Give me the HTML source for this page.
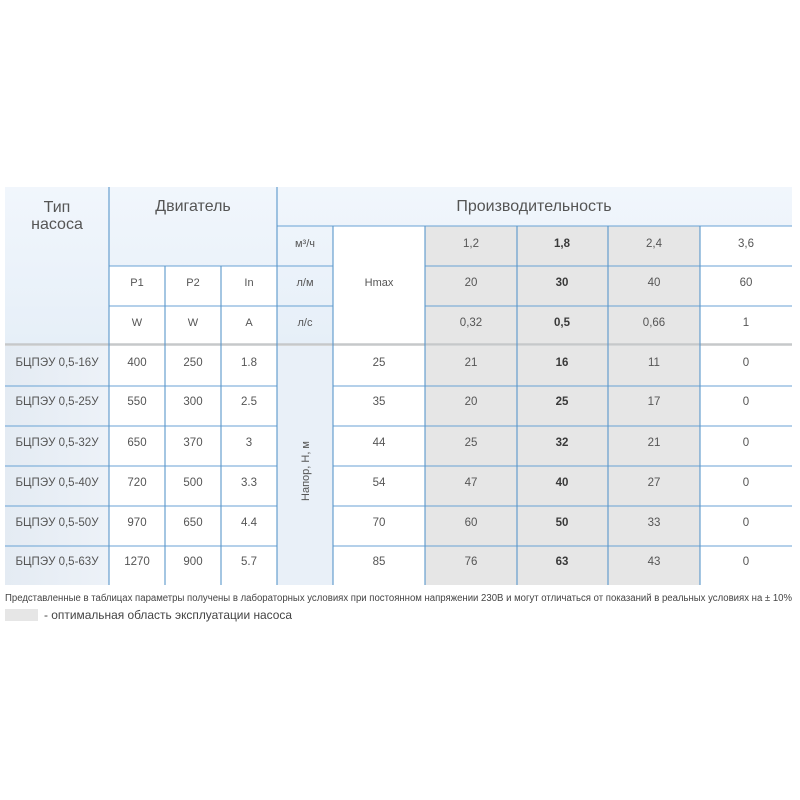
<!DOCTYPE html>
<html><head><meta charset="utf-8"><style>
html,body{margin:0;padding:0;background:#fff;}
svg{display:block;}
text{font-family:"Liberation Sans","DejaVu Sans",sans-serif;fill:#555;}
</style></head><body>
<svg width="800" height="800" viewBox="0 0 800 800" xmlns="http://www.w3.org/2000/svg">
<defs>
<linearGradient id="hb" x1="0" y1="0" x2="0" y2="1">
<stop offset="0" stop-color="#f1f6fc"/><stop offset="1" stop-color="#e6eff8"/>
</linearGradient>
<linearGradient id="lc" x1="0" y1="0" x2="1" y2="0">
<stop offset="0" stop-color="#e4ebf3"/><stop offset="1" stop-color="#edf2f8"/>
</linearGradient>
</defs>
<rect x="5" y="187" width="787" height="157" fill="url(#hb)"/>
<rect x="109" y="266" width="168" height="78" fill="#fff"/>
<rect x="333" y="226" width="92" height="118" fill="#fff"/>
<rect x="425" y="226" width="275" height="118" fill="#e6e6e6"/>
<rect x="700" y="226" width="92" height="118" fill="#fff"/>
<rect x="5" y="346" width="104" height="239" fill="url(#lc)"/>
<rect x="277" y="346" width="56" height="239" fill="#e9f0f8"/>
<rect x="425" y="346" width="275" height="239" fill="#e6e6e6"/>
<g stroke="#68a2d4" stroke-width="1">
<line x1="277" y1="226" x2="792" y2="226"/>
<line x1="109" y1="266" x2="333" y2="266"/>
<line x1="425" y1="266" x2="792" y2="266"/>
<line x1="109" y1="306" x2="333" y2="306"/>
<line x1="425" y1="306" x2="792" y2="306"/>
<line x1="5" y1="386" x2="277" y2="386"/><line x1="333" y1="386" x2="792" y2="386"/>
<line x1="5" y1="426" x2="277" y2="426"/><line x1="333" y1="426" x2="792" y2="426"/>
<line x1="5" y1="466" x2="277" y2="466"/><line x1="333" y1="466" x2="792" y2="466"/>
<line x1="5" y1="506" x2="277" y2="506"/><line x1="333" y1="506" x2="792" y2="506"/>
<line x1="5" y1="546" x2="277" y2="546"/><line x1="333" y1="546" x2="792" y2="546"/>
</g>
<line x1="5" y1="344.5" x2="792" y2="344.5" stroke="#c6c8ca" stroke-width="2.5"/>
<g stroke="#5a97cb" stroke-width="1.1">
<line x1="109" y1="187" x2="109" y2="585"/>
<line x1="277" y1="187" x2="277" y2="585"/>
<line x1="165" y1="266" x2="165" y2="585"/>
<line x1="221" y1="266" x2="221" y2="585"/>
<line x1="333" y1="226" x2="333" y2="585"/>
<line x1="425" y1="226" x2="425" y2="585"/>
<line x1="517" y1="226" x2="517" y2="585"/>
<line x1="608" y1="226" x2="608" y2="585"/>
<line x1="700" y1="226" x2="700" y2="585"/>
</g>
<g font-size="16" text-anchor="middle" style="fill:#4a4a4a">
<text x="57" y="212">Тип</text>
<text x="57" y="229">насоса</text>
<text x="193" y="211">Двигатель</text>
<text x="534" y="211">Производительность</text>
</g>
<g font-size="11" text-anchor="middle">
<text x="305" y="247">м³/ч</text>
<text x="305" y="286">л/м</text>
<text x="305" y="326">л/с</text>
<text x="137" y="286">P1</text><text x="193" y="286">P2</text><text x="249" y="286">In</text>
<text x="137" y="326">W</text><text x="193" y="326">W</text><text x="249" y="326">A</text>
<text x="379" y="286">Hmax</text>
</g>
<g font-size="11.5" text-anchor="middle">
<text x="471" y="247">1,2</text><text x="562" y="247" font-weight="bold" style="fill:#3a3a3a">1,8</text><text x="654" y="247">2,4</text><text x="746" y="247">3,6</text>
<text x="471" y="286">20</text><text x="562" y="286" font-weight="bold" style="fill:#3a3a3a">30</text><text x="654" y="286">40</text><text x="746" y="286">60</text>
<text x="471" y="326">0,32</text><text x="562" y="326" font-weight="bold" style="fill:#3a3a3a">0,5</text><text x="654" y="326">0,66</text><text x="746" y="326">1</text>
</g>
<g font-size="11.5" text-anchor="middle">
<text x="57" y="366">БЦПЭУ 0,5-16У</text><text x="137" y="366">400</text><text x="193" y="366">250</text><text x="249" y="366">1.8</text><text x="379" y="366">25</text><text x="471" y="366">21</text><text x="562" y="366" font-weight="bold" style="fill:#3a3a3a">16</text><text x="654" y="366">11</text><text x="746" y="366">0</text>
<text x="57" y="405">БЦПЭУ 0,5-25У</text><text x="137" y="405">550</text><text x="193" y="405">300</text><text x="249" y="405">2.5</text><text x="379" y="405">35</text><text x="471" y="405">20</text><text x="562" y="405" font-weight="bold" style="fill:#3a3a3a">25</text><text x="654" y="405">17</text><text x="746" y="405">0</text>
<text x="57" y="446">БЦПЭУ 0,5-32У</text><text x="137" y="446">650</text><text x="193" y="446">370</text><text x="249" y="446">3</text><text x="379" y="446">44</text><text x="471" y="446">25</text><text x="562" y="446" font-weight="bold" style="fill:#3a3a3a">32</text><text x="654" y="446">21</text><text x="746" y="446">0</text>
<text x="57" y="486">БЦПЭУ 0,5-40У</text><text x="137" y="486">720</text><text x="193" y="486">500</text><text x="249" y="486">3.3</text><text x="379" y="486">54</text><text x="471" y="486">47</text><text x="562" y="486" font-weight="bold" style="fill:#3a3a3a">40</text><text x="654" y="486">27</text><text x="746" y="486">0</text>
<text x="57" y="526">БЦПЭУ 0,5-50У</text><text x="137" y="526">970</text><text x="193" y="526">650</text><text x="249" y="526">4.4</text><text x="379" y="526">70</text><text x="471" y="526">60</text><text x="562" y="526" font-weight="bold" style="fill:#3a3a3a">50</text><text x="654" y="526">33</text><text x="746" y="526">0</text>
<text x="57" y="565">БЦПЭУ 0,5-63У</text><text x="137" y="565">1270</text><text x="193" y="565">900</text><text x="249" y="565">5.7</text><text x="379" y="565">85</text><text x="471" y="565">76</text><text x="562" y="565" font-weight="bold" style="fill:#3a3a3a">63</text><text x="654" y="565">43</text><text x="746" y="565">0</text>
</g>
<text x="0" y="0" font-size="11" text-anchor="middle" transform="translate(309,471) rotate(-90)">Напор, H, м</text>
<text x="5" y="601" font-size="10" textLength="787" lengthAdjust="spacingAndGlyphs" style="fill:#444">Представленные в таблицах параметры  получены в лабораторных условиях при постоянном напряжении 230В и могут отличаться от показаний в реальных условиях на ± 10%</text>
<rect x="5" y="609" width="33" height="12" fill="#e6e6e6"/>
<text x="44" y="619" font-size="12" textLength="248" lengthAdjust="spacingAndGlyphs" style="fill:#444">- оптимальная область эксплуатации насоса</text>
</svg>
</body></html>
